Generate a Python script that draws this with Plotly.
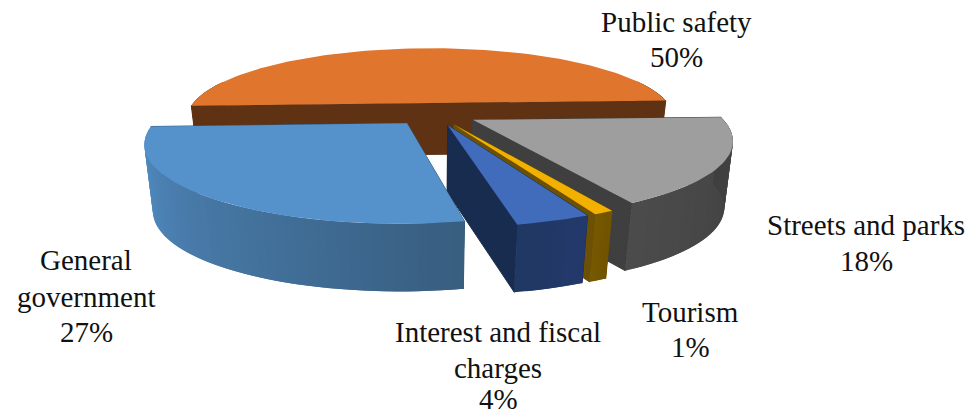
import math
import plotly.graph_objects as go

categories = ["Public safety", "Streets and parks", "Tourism", "Interest and fiscal charges", "General government"]
values = [50.1, 17.7, 1.0, 3.7, 27.5]
label_lines = [["Public safety", "50%"], ["Streets and parks", "18%"], ["Tourism", "1%"],
               ["Interest and fiscal", "charges", "4%"], ["General", "government", "27%"]]

top_colors = ["#E0762D", "#9E9E9E", "#F2B000", "#416CBB", "#5592CB"]
side_start = ["#5F3214", "#4B4B4B", "#765800", "#203864", "#5490C8"]
side_end = ["#5F3214", "#3F3F3F", "#705400", "#23396B", "#385E80"]
cut_colors = ["#5F3214", "#3F3F3F", "#6B5005", "#182C50", "#2F5478"]
wall_heights = [52, 67, 67, 67, 67]
x_nudges = [0, 6, 4, 3, 0]

CX, CY, R, A, D, E, P = 432, 114, 246, 72, 4.3, 0.16, 0.12
START = 2.0


def project(u, v, w, h, dx):
    s = D / (D + v - P * w)
    return CX + dx + R * u * s, CY - A * v * s - h * w * s ** 0.25


def hex_mix(c1, c2, t):
    a = [int(c1[i:i + 2], 16) for i in (1, 3, 5)]
    b = [int(c2[i:i + 2], 16) for i in (1, 3, 5)]
    return "#%02x%02x%02x" % tuple(round(a[i] + (b[i] - a[i]) * t) for i in range(3))


fig = go.Figure()


def poly(points, color, width=0):
    xs = [p[0] for p in points] + [points[0][0]]
    ys = [p[1] for p in points] + [points[0][1]]
    fig.add_trace(go.Scatter(x=xs, y=ys, mode="lines", fill="toself", fillcolor=color,
                             line=dict(color=color, width=width), hoverinfo="skip", showlegend=False))


ranges = []
a_hi = START + values[0] * 3.6
for val in values:
    a_lo = a_hi - val * 3.6
    ranges.append((a_lo, a_hi))
    a_hi = a_lo

for i, (lo, hi) in enumerate(ranges):
    h, dx = wall_heights[i], x_nudges[i]
    mid = math.radians((lo + hi) / 2)
    ou, ov = E * math.cos(mid), E * math.sin(mid)
    n = max(4, int((hi - lo) / 2))
    angs = [math.radians(lo + (hi - lo) * k / n) for k in range(n + 1)]
    rim = [(ou + math.cos(t), ov + math.sin(t)) for t in angs]

    for (eu, ev) in (rim[0], rim[-1]):
        poly([project(ou, ov, 0, h, dx), project(eu, ev, 0, h, dx),
              project(eu, ev, -1, h, dx), project(ou, ov, -1, h, dx)], cut_colors[i], width=1)
    for k in range(n):
        p, q = rim[k], rim[min(k + 2, n)]
        if p[1] > ov + 0.3 and q[1] > ov + 0.3:
            continue
        color = hex_mix(side_start[i], side_end[i], k / max(1, n - 1))
        poly([project(*p, 0, h, dx), project(*q, 0, h, dx), project(*q, -1, h, dx), project(*p, -1, h, dx)], color)
    poly([project(ou, ov, 0, h, dx)] + [project(u, v, 0, h, dx) for u, v in rim], top_colors[i])

label_x = [676, 866, 690, 498, 86]
label_y = [[22, 57], [225, 261], [312, 347], [332, 368, 399], [260, 297, 332]]
for x, ys, lines in zip(label_x, label_y, label_lines):
    for y, t in zip(ys, lines):
        fig.add_annotation(x=x, y=y, text=t, showarrow=False, xref="x", yref="y",
                           font=dict(family="Liberation Serif", size=29, color="#111111"))

fig.update_layout(width=972, height=416, margin=dict(l=0, r=0, t=0, b=0), paper_bgcolor="white",
                  plot_bgcolor="white", showlegend=False,
                  xaxis=dict(range=[0, 972], visible=False, fixedrange=True),
                  yaxis=dict(range=[416, 0], visible=False, fixedrange=True))
fig.write_html("out.html", config={"displayModeBar": False},
               post_script="document.body.style.margin='0';")
